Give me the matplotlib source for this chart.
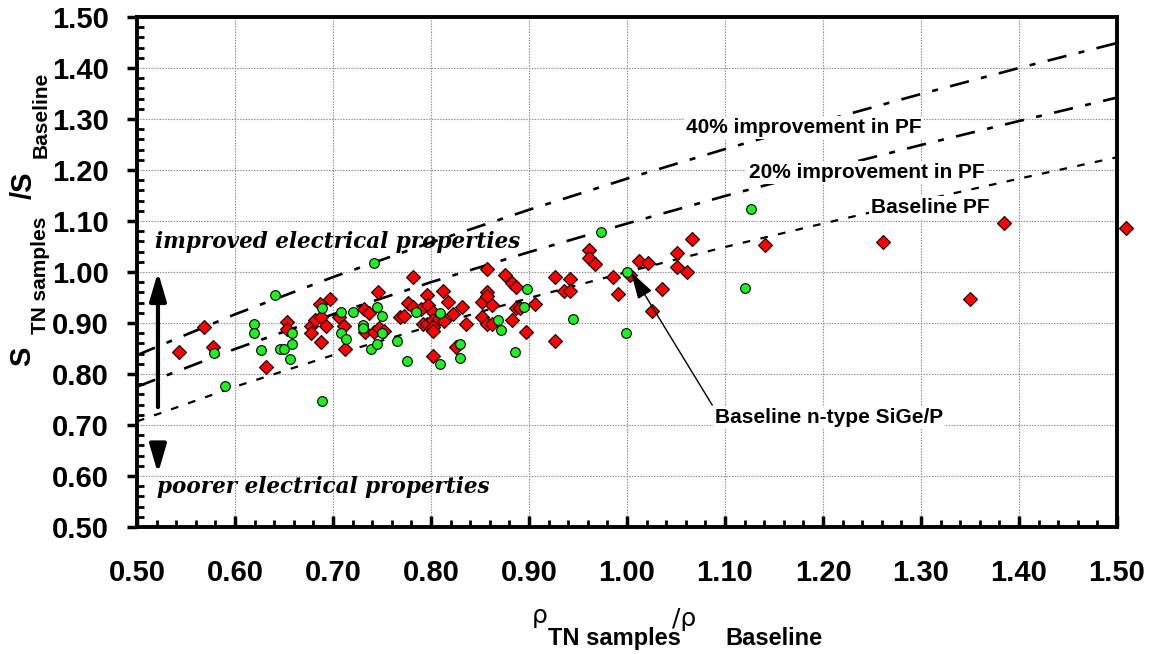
import matplotlib
matplotlib.use('Agg')
import matplotlib.pyplot as plt
from matplotlib.ticker import MultipleLocator, FormatStrFormatter

plt.rcParams['font.family'] = ['Liberation Sans', 'DejaVu Sans']
plt.rcParams['font.weight'] = 'bold'
plt.rcParams['lines.scale_dashes'] = False

# Power-factor reference curves
rho_curve = [0.5, 0.6, 0.7, 0.8, 0.9, 1.0, 1.1, 1.2, 1.3, 1.4, 1.5]
s_pf_base = [0.707, 0.775, 0.837, 0.894, 0.949, 1.000, 1.049, 1.095, 1.140, 1.183, 1.225]
s_pf_20 = [0.775, 0.849, 0.917, 0.980, 1.039, 1.095, 1.149, 1.200, 1.249, 1.296, 1.342]
s_pf_40 = [0.837, 0.917, 0.990, 1.058, 1.122, 1.183, 1.241, 1.296, 1.349, 1.400, 1.449]

# Red diamonds
red_rho = [0.543, 0.568, 0.578, 0.632, 0.653, 0.653, 0.678, 0.678, 0.682, 0.688,
           0.693, 0.688, 0.687, 0.697, 0.706, 0.711, 0.712, 0.732, 0.737, 0.733,
           0.742, 0.747, 0.752, 0.746, 0.768, 0.772, 0.777, 0.782, 0.782, 0.790,
           0.796, 0.792, 0.797, 0.796, 0.802, 0.802, 0.807, 0.813, 0.802, 0.802,
           0.802, 0.812, 0.817, 0.822, 0.832, 0.836, 0.826, 0.852, 0.857, 0.857,
           0.857, 0.862, 0.852, 0.857, 0.862, 0.876, 0.883, 0.887, 0.883, 0.887,
           0.891, 0.897, 0.906, 0.927, 0.942, 0.936, 0.942, 0.927, 0.961, 0.961,
           0.967, 0.986, 0.991, 1.003, 1.012, 1.021, 1.026, 1.036, 1.051, 1.051,
           1.061, 1.066, 1.141, 1.261, 1.350, 1.385, 1.509]
red_s = [0.843, 0.892, 0.853, 0.813, 0.902, 0.888, 0.895, 0.880, 0.905, 0.911,
         0.895, 0.862, 0.937, 0.948, 0.911, 0.895, 0.850, 0.927, 0.919, 0.883,
         0.883, 0.891, 0.884, 0.960, 0.911, 0.914, 0.940, 0.931, 0.991, 0.927,
         0.955, 0.899, 0.935, 0.899, 0.922, 0.906, 0.906, 0.903, 0.893, 0.885,
         0.835, 0.963, 0.941, 0.917, 0.932, 0.898, 0.852, 0.942, 1.005, 0.961,
         0.952, 0.935, 0.911, 0.899, 0.899, 0.994, 0.978, 0.971, 0.906, 0.930,
         0.930, 0.883, 0.938, 0.991, 0.987, 0.963, 0.963, 0.865, 1.043, 1.027,
         1.016, 0.990, 0.957, 0.995, 1.021, 1.018, 0.924, 0.966, 1.037, 1.009,
         1.000, 1.064, 1.052, 1.058, 0.947, 1.097, 1.086]

# Green circles
green_rho = [0.579, 0.590, 0.619, 0.619, 0.627, 0.641, 0.646, 0.650, 0.656, 0.658,
             0.658, 0.689, 0.689, 0.708, 0.708, 0.713, 0.720, 0.731, 0.731, 0.739,
             0.742, 0.745, 0.745, 0.750, 0.750, 0.765, 0.775, 0.785, 0.809, 0.809,
             0.830, 0.830, 0.868, 0.871, 0.886, 0.895, 0.898, 0.945, 0.973, 0.999,
             1.000, 1.120, 1.127]
green_s = [0.841, 0.776, 0.899, 0.880, 0.848, 0.954, 0.850, 0.850, 0.829, 0.880,
           0.858, 0.929, 0.748, 0.921, 0.880, 0.869, 0.921, 0.896, 0.890, 0.850,
           1.018, 0.932, 0.859, 0.914, 0.880, 0.865, 0.825, 0.921, 0.920, 0.820,
           0.859, 0.831, 0.905, 0.886, 0.844, 0.931, 0.966, 0.908, 1.079, 0.880,
           1.000, 0.969, 1.123]

W, H = 1152, 654
fig = plt.figure(figsize=(W / 100, H / 100), dpi=100)
ax = fig.add_axes([137 / W, 1 - 527 / H, 980 / W, 510 / H])
ax.set_xlim(0.5, 1.5)
ax.set_ylim(0.5, 1.5)
ax.set_axisbelow(True)

ax.xaxis.set_major_locator(MultipleLocator(0.1))
ax.xaxis.set_minor_locator(MultipleLocator(0.02))
ax.yaxis.set_major_locator(MultipleLocator(0.1))
ax.yaxis.set_minor_locator(MultipleLocator(0.02))
ax.xaxis.set_major_formatter(FormatStrFormatter('%.2f'))
ax.yaxis.set_major_formatter(FormatStrFormatter('%.2f'))
ax.grid(True, which='major', color='#8a8a8a', linestyle=(0, (1, 1)), linewidth=0.8)
for sp in ax.spines.values():
    sp.set_linewidth(2.8)
ax.tick_params(axis='x', which='major', direction='in', length=8, width=2.5, pad=23, labelsize=21)
ax.tick_params(axis='x', which='minor', direction='in', length=5, width=2)
ax.tick_params(axis='y', which='major', direction='out', length=7, width=2.5, pad=13, labelsize=21)
ax.tick_params(axis='y', which='minor', direction='in', length=5, width=2)

# reference curves
ax.plot(rho_curve, s_pf_40, color='black', lw=1.9, linestyle=(0, (14, 9, 4.3, 9)))
ax.plot(rho_curve, s_pf_20, color='black', lw=1.9, linestyle=(0, (14, 9, 4.3, 9)))
ax.plot(rho_curve, s_pf_base, color='black', lw=1.6, linestyle=(0, (5.5, 7.5)))

# data
ax.plot(red_rho, red_s, linestyle='none', marker='D', markersize=7, markerfacecolor='#ff0000',
        markeredgecolor='black', markeredgewidth=0.8, clip_on=False, zorder=3)
ax.plot(green_rho, green_s, linestyle='none', marker='o', markersize=7, markerfacecolor='#1ff01f',
        markeredgecolor='black', markeredgewidth=0.8, clip_on=False, zorder=4)

# curve labels
box = dict(facecolor='white', edgecolor='none', pad=1.5)
ax.text(1.060, 1.273, '40% improvement in PF', fontsize=15, ha='left', va='baseline', bbox=box)
ax.text(1.124, 1.184, '20% improvement in PF', fontsize=15, ha='left', va='baseline', bbox=box)
ax.text(1.249, 1.116, 'Baseline PF', fontsize=15, ha='left', va='baseline', bbox=box)
ax.text(1.090, 0.704, 'Baseline n-type SiGe/P', fontsize=15, ha='left', va='baseline', bbox=box)
ax.annotate('', xy=(1.004, 1.0), xytext=(1.087, 0.739),
            arrowprops=dict(arrowstyle='-|>,head_length=1.7,head_width=0.5', mutation_scale=10,
                            lw=1, color='black', shrinkA=0, shrinkB=0))

# improved/poorer
serif = dict(family='DejaVu Serif', style='italic', weight='bold', fontsize=15.5)
ax.text(0.518, 1.047, 'improved electrical properties', ha='left', va='baseline', **serif)
ax.text(0.520, 0.567, 'poorer electrical properties', ha='left', va='baseline', **serif)
ax.annotate('', xy=(0.5214, 1.0), xytext=(0.5214, 0.735),
            arrowprops=dict(arrowstyle='-|>,head_length=1.7,head_width=0.5', mutation_scale=10,
                            lw=3, color='black', shrinkA=0, shrinkB=0))
ax.annotate('', xy=(0.5214, 0.605), xytext=(0.5214, 0.662),
            arrowprops=dict(arrowstyle='-|>,head_length=1.7,head_width=0.5', mutation_scale=10,
                            lw=3, color='black', shrinkA=0, shrinkB=0))

# y label (pieces)
def ftxt(x, y, s, **kw):
    fig.text(x / W, 1 - y / H, s, **kw)

ftxt(22, 356, 'S', fontsize=21, rotation=90, ha='center', va='center')
ftxt(41, 275, 'TN samples', fontsize=15, rotation=90, ha='center', va='center')
ftxt(24, 185, '/S', fontsize=21, rotation=90, ha='center', va='center')
ftxt(41, 115, 'Baseline', fontsize=15, rotation=90, ha='center', va='center')

# x label (pieces)
ftxt(540, 616, 'ρ', fontsize=18, fontweight='normal', family='DejaVu Sans', ha='center', va='center')
ftxt(548, 645, 'TN samples', fontsize=17, ha='left', va='baseline')
ftxt(672, 626, '/ρ', fontsize=18, fontweight='normal', family='DejaVu Sans', ha='left', va='baseline')
ftxt(725, 645, 'Baseline', fontsize=17, ha='left', va='baseline')

fig.savefig('out.png', dpi=100)
